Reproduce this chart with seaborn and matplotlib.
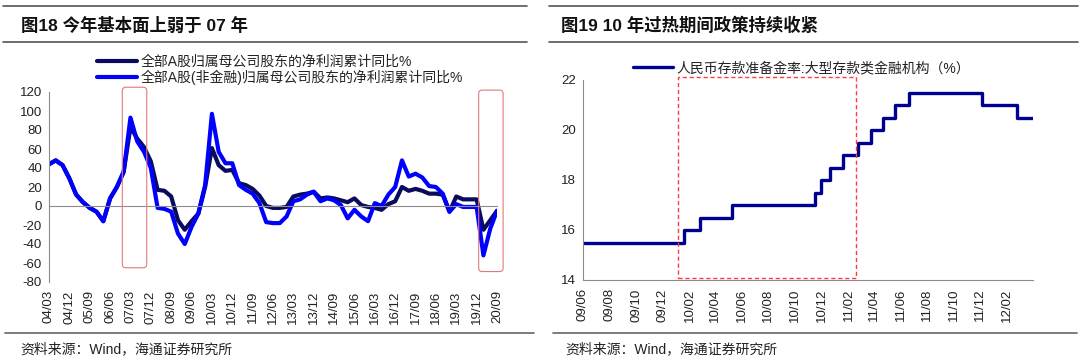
import numpy as np
import pandas as pd
import matplotlib
matplotlib.use("Agg")
import matplotlib.pyplot as plt
import matplotlib.dates as mdates
from matplotlib.patches import FancyBboxPatch, Rectangle
from matplotlib.lines import Line2D
import seaborn as sns

# ── Datos: figura 18 (trimestral, 04/03 – 20/09) ──
years = [f"{y:02d}" for y in range(4, 21)]
quarters = [f"{y}/{m}" for y in years for m in ("03", "06", "09", "12")][:67]

profit_all = [44, 48, 43, 29, 12, 4, -2, -6, -16, 8, 20, 36,
              83, 71, 62, 47, 17, 16, 10, -15, -25, -16, -8, 20,
              61, 43, 37, 38, 24, 22, 18, 11, 0, -2, -2, -1,
              10, 12, 13, 15, 8, 9, 8, 6, 4, 8, 1, -1,
              -2, -4, 2, 5, 20, 16, 18, 16, 13, 13, 12, -6,
              10, 7, 7, 7, -25, -15, -5]
profit_nonfin = [44, 48, 43, 29, 12, 4, -2, -6, -16, 8, 20, 36,
                 93, 68, 57, 40, -2, -3, -6, -29, -40, -22, -8, 22,
                 97, 57, 45, 45, 22, 17, 13, 3, -17, -18, -18, -11,
                 5, 7, 12, 15, 5, 8, 6, 1, -13, -4, -11, -16,
                 3, 0, 12, 20, 48, 31, 34, 30, 21, 20, 13, -6,
                 2, -1, -1, -1, -52, -24, -5]
label_all = "全部A股归属母公司股东的净利润累计同比%"
label_nonfin = "全部A股(非金融)归属母公司股东的净利润累计同比%"

# ── Datos: figura 19 (encaje legal, grandes bancos) ──
rrr_dates = ["2009-06-01", "2010-01-18", "2010-02-25", "2010-05-10",
             "2010-11-16", "2010-11-29", "2010-12-20", "2011-01-20",
             "2011-02-24", "2011-03-25", "2011-04-21", "2011-05-18",
             "2011-06-20", "2011-12-05", "2012-02-24", "2012-03-31"]
rrr_values = [15.5, 16.0, 16.5, 17.0, 17.5, 18.0, 18.5, 19.0,
              19.5, 20.0, 20.5, 21.0, 21.5, 21.0, 20.5, 20.5]
label_rrr = "人民币存款准备金率:大型存款类金融机构（%）"

GRAY = "#8c8c8c"
TXT = "#222222"
DARK = "#0b0b5e"
BLUE = "#0000ff"
NAVY = "#000090"

sns.set_style("white")
plt.rcParams["font.family"] = ["Liberation Sans", "Noto Sans CJK SC", "DejaVu Sans"]
plt.rcParams["axes.unicode_minus"] = False

fig = plt.figure(figsize=(10.8, 3.61), dpi=100)
W, H = 1080, 361


def fx(px):
    return px / W


def fy(py):
    return 1 - py / H


# ──────────────── Panel izquierdo ────────────────
ax1 = fig.add_axes([fx(49), fy(282), fx(448), 190 / H])
df1 = pd.DataFrame({"i": np.arange(len(quarters)),
                    "all": profit_all, "nonfin": profit_nonfin})
sns.lineplot(data=df1, x="i", y="all", ax=ax1, color=DARK, lw=3.0,
             label=label_all, solid_capstyle="round", solid_joinstyle="round")
sns.lineplot(data=df1, x="i", y="nonfin", ax=ax1, color=BLUE, lw=3.0,
             label=label_nonfin, solid_capstyle="round", solid_joinstyle="round")
ax1.set_xlim(0, len(quarters) - 1)
ax1.set_ylim(-80, 120)
ax1.set_yticks(np.arange(-80, 121, 20))
ticks1 = list(range(0, len(quarters), 3))
ax1.set_xticks(ticks1)
ax1.set_xticklabels([])
ax1.set_xlabel("")
ax1.set_ylabel("")
for s in ("top", "right"):
    ax1.spines[s].set_visible(False)
ax1.spines["bottom"].set_position(("data", 0))
ax1.spines["bottom"].set_color(GRAY)
ax1.spines["left"].set_color(GRAY)
ax1.tick_params(axis="x", direction="out", length=3, color=GRAY)
ax1.tick_params(axis="y", direction="out", length=3, color=GRAY,
                labelsize=9.5, labelcolor=TXT, pad=2)
sec = ax1.secondary_xaxis("bottom")
sec.set_xticks(ticks1)
sec.set_xticklabels([quarters[i] for i in ticks1], rotation=90)
sec.tick_params(length=0, labelsize=9.5, labelcolor=TXT, pad=6)
sec.spines["bottom"].set_visible(False)

for x0, x1, y0, y1 in [(10.8, 14.4, -65, 125), (63.3, 66.9, -69, 122)]:
    box = FancyBboxPatch((x0, y0), x1 - x0, y1 - y0,
                         boxstyle="round,pad=0,rounding_size=0.5",
                         mutation_aspect=8, fill=False, ec="#e07a7a",
                         lw=0.8, clip_on=False, zorder=5)
    ax1.add_patch(box)

ax1.legend(loc="upper left", bbox_to_anchor=(fx(97), fy(55)),
           bbox_transform=fig.transFigure, frameon=False, fontsize=10,
           handlelength=2.9, handletextpad=0.25, labelspacing=0.05,
           borderpad=0, borderaxespad=0, labelcolor=TXT)

# ──────────────── Panel derecho ────────────────
ax2 = fig.add_axes([fx(583), fy(280), fx(450), 200 / H])
df2 = pd.DataFrame({"fecha": pd.to_datetime(rrr_dates), "rrr": rrr_values})
sns.lineplot(data=df2, x="fecha", y="rrr", ax=ax2, color=NAVY, lw=2.4,
             drawstyle="steps-post", label=label_rrr)
ax2.set_xlim(pd.Timestamp("2009-06-01"), pd.Timestamp("2012-03-31"))
ax2.set_ylim(14, 22)
ax2.set_yticks(np.arange(14, 23, 2))
ax2.xaxis.set_major_locator(mdates.MonthLocator(bymonth=[2, 4, 6, 8, 10, 12]))
ax2.xaxis.set_major_formatter(mdates.DateFormatter("%y/%m"))
ax2.set_xlabel("")
ax2.set_ylabel("")
for s in ("top", "right"):
    ax2.spines[s].set_visible(False)
for s in ("bottom", "left"):
    ax2.spines[s].set_color(GRAY)
ax2.tick_params(axis="x", direction="out", length=3, color=GRAY,
                labelsize=9.5, labelcolor=TXT, rotation=90, pad=3)
ax2.tick_params(axis="y", direction="out", length=3, color=GRAY,
                labelsize=9.5, labelcolor=TXT, pad=2)

r0 = mdates.date2num(pd.Timestamp("2010-01-06"))
r1 = mdates.date2num(pd.Timestamp("2011-02-19"))
ax2.add_patch(Rectangle((r0, 14.1), r1 - r0, 22.1 - 14.1, fill=False,
                        ec="#ff3b3b", lw=1.0, ls=(0, (3, 2)),
                        clip_on=False, zorder=5))

ax2.legend(loc="upper left", bbox_to_anchor=(fx(633), fy(61)),
           bbox_transform=fig.transFigure, frameon=False, fontsize=10,
           handlelength=2.9, handletextpad=0.25, borderpad=0,
           borderaxespad=0, labelcolor=TXT)

# ──────────────── Títulos, reglas y fuentes ────────────────
fig.text(fx(21), fy(25), "图18 今年基本面上弱于 07 年", fontsize=12.5,
         fontweight="bold", va="center", ha="left", color="#111111")
fig.text(fx(561), fy(25), "图19 10 年过热期间政策持续收紧", fontsize=12.5,
         fontweight="bold", va="center", ha="left", color="#111111")

for (xa, xb) in [(3, 527), (549, 1078)]:
    for yy in (6, 42):
        fig.add_artist(Line2D([fx(xa), fx(xb)], [fy(yy), fy(yy)],
                              color="#555555", lw=1.2))
for (xa, xb) in [(5, 534), (553, 1077)]:
    fig.add_artist(Line2D([fx(xa), fx(xb)], [fy(333), fy(333)],
                          color="#666666", lw=1.2))

fig.text(fx(20), fy(349), "资料来源：Wind，海通证券研究所", fontsize=10,
         va="center", ha="left", color=TXT)
fig.text(fx(565), fy(349), "资料来源：Wind，海通证券研究所", fontsize=10,
         va="center", ha="left", color=TXT)

fig.savefig("out.png", dpi=100)
